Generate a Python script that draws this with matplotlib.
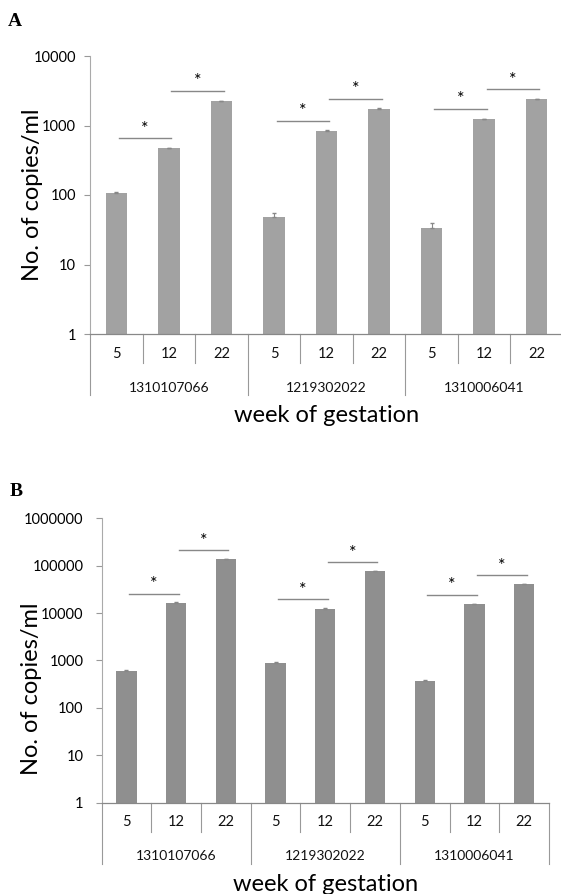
import numpy as np
import matplotlib
matplotlib.use('Agg')
import matplotlib.pyplot as plt

plt.rcParams['font.family'] = ['Lato', 'DejaVu Sans']

weeks = ['5', '12', '22']
samples = ['1310107066', '1219302022', '1310006041']

# panel A
copies_a = [108, 472, 2250, 48, 839, 1730, 33, 1240, 2400]
err_a = [2, 10, 30, 7, 15, 30, 7, 20, 30]
# panel B
copies_b = [608, 16400, 135000, 900, 12400, 75400, 360, 15400, 40600]
err_b = [15, 400, 2000, 30, 300, 1500, 25, 300, 800]

# left bar of each significant pair
sig_pairs = [0, 1, 3, 4, 6, 7]


def plot_panel(ax, values, errs, top, color, factor, pad):
    x = np.arange(len(values))
    ax.bar(x, values, width=0.41, color=color, bottom=0, zorder=2)
    ax.errorbar(x, values, yerr=[np.zeros(len(errs)), errs], fmt='none',
                ecolor='#888888', elinewidth=0.8, capsize=1.5, zorder=3)
    ax.set_yscale('log')
    ax.set_ylim(1, top)
    ax.set_xlim(-0.5, len(values) - 0.5)
    ax.set_yticks([10 ** k for k in range(int(np.log10(top)) + 1)])
    ax.set_yticklabels([str(10 ** k) for k in range(int(np.log10(top)) + 1)])
    ax.minorticks_off()
    ax.tick_params(axis='y', length=4, width=0.8, color='#999999',
                   labelsize=10.5, pad=pad)
    ax.set_xticks([])
    for s in ['top', 'right']:
        ax.spines[s].set_visible(False)
    ax.spines['left'].set_color('#aaaaaa')
    ax.spines['bottom'].set_color('#888888')
    ax.spines['left'].set_linewidth(0.8)
    ax.spines['bottom'].set_linewidth(0.9)

    # two-level category axis
    tr = ax.get_xaxis_transform()
    h = ax.get_window_extent().height
    short = -29.0 / h
    long_ = -61.0 / h
    for i in range(len(values) + 1):
        y1 = long_ if i % 3 == 0 else short
        ax.plot([i - 0.5, i - 0.5], [0, y1], color='#999999', lw=0.8,
                transform=tr, clip_on=False)
    for i in range(len(values)):
        ax.text(i, -20.0 / h, weeks[i % 3], transform=tr, ha='center',
                va='center', fontsize=10.5, color='#111111')
    for g in range(len(samples)):
        ax.text(3 * g + 1, -54.0 / h, samples[g], transform=tr, ha='center',
                va='center', fontsize=10, color='#111111')

    # significance brackets
    for i in sig_pairs:
        yb = max(values[i], values[i + 1]) * factor
        ax.plot([i + 0.05, i + 1.05], [yb, yb], color='#888888', lw=1.0,
                zorder=3)
        ax.annotate('*', (i + 0.55, yb), xytext=(0, 1), textcoords='offset points',
                    ha='center', va='bottom', fontsize=13, color='#000000')

    ax.set_ylabel('No. of copies/ml', fontsize=17, color='#000000')
    ax.text(0.5, -82.0 / h, 'week of gestation', transform=ax.transAxes,
            ha='center', va='center', fontsize=17, color='#000000')


fig = plt.figure(figsize=(5.61, 8.94), dpi=100)

ax_a = fig.add_axes([90 / 561, (894 - 334) / 894, 473 / 561, 278 / 894])
plot_panel(ax_a, copies_a, err_a, 10000, '#a2a2a2', 1.4, 6)
ax_a.yaxis.set_label_coords(-47 / 473, 0.5)

ax_b = fig.add_axes([101.5 / 561, (894 - 802.5) / 894, 447.5 / 561, 284.2 / 894])
plot_panel(ax_b, copies_b, err_b, 1000000, '#8f8f8f', 1.57, 9)
ax_b.yaxis.set_label_coords(-60 / 447.5, 0.4)

fig.text(8 / 561, 1 - 22 / 894, 'A', fontsize=14, fontweight='bold',
         family='Liberation Serif', va='center')
fig.text(10 / 561, 1 - 492 / 894, 'B', fontsize=14, fontweight='bold',
         family='Liberation Serif', va='center')

fig.savefig('out.png', dpi=100)
